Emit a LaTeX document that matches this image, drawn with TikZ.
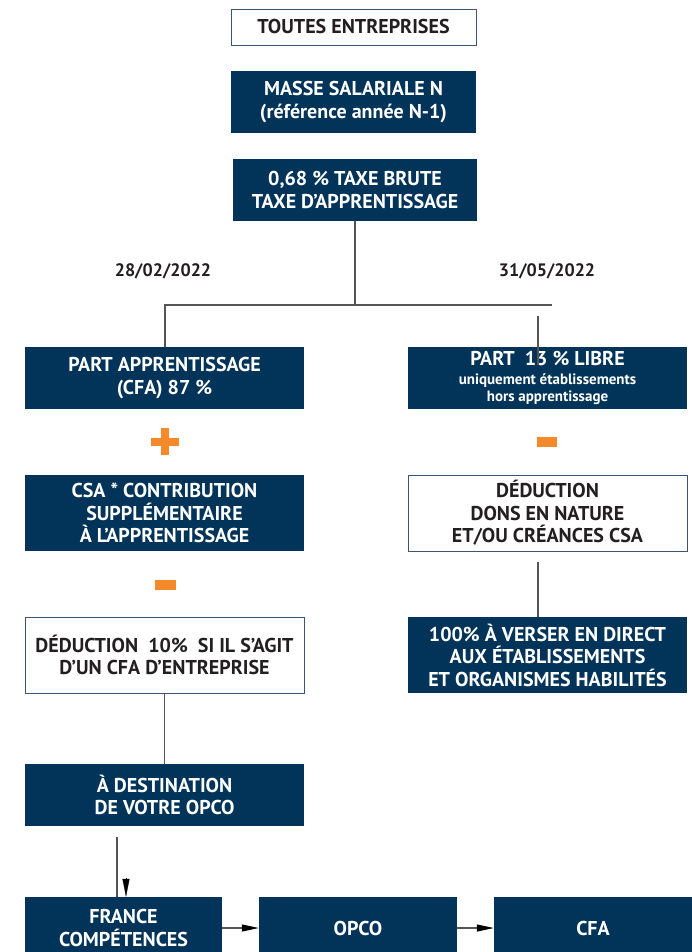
\documentclass[tikz,border=0pt]{standalone}
\usepackage{fontspec}
\setmainfont{PT Sans}
\usepackage{tikz}
\usetikzlibrary{shapes,arrows.meta,positioning,calc}
\usepackage{xcolor}
\definecolor{navy}{RGB}{2,52,89}
\definecolor{frame}{RGB}{60,85,115}
\definecolor{ink}{RGB}{35,31,32}
\definecolor{lien}{RGB}{85,85,85}
\definecolor{signe}{RGB}{245,138,42}

\tikzset{
    darkbox/.style={rectangle, fill=navy, text=white, align=center, inner sep=0pt,
        font=\fontsize{20}{22.5}\selectfont\bfseries},
    lightbox/.style={rectangle, draw=frame, line width=0.8pt, fill=white, text=ink,
        align=center, inner sep=0pt, font=\fontsize{20}{22.5}\selectfont\bfseries},
    datelabel/.style={text=ink, font=\fontsize{18}{20}\selectfont\bfseries},
    link/.style={draw=lien, line width=1.1pt},
    flow/.style={link, -{Triangle[length=17pt,width=7pt,black]}}
}

\begin{document}
\begin{tikzpicture}[x=1pt,y=-1pt]
            \useasboundingbox (0,0) rectangle (692,952);

            % haut
            \node[lightbox, minimum width=245pt, minimum height=36pt] (toutes) at (353.5,27) {TOUTES ENTREPRISES};
            \node[darkbox, minimum width=245pt, minimum height=62pt] (masse) at (353.5,102) {MASSE SALARIALE N\\(référence année N-1)};
            \node[darkbox, minimum width=244pt, minimum height=62pt] (taxe) at (355,190) {0,68 \% TAXE BRUTE\\TAXE D’APPRENTISSAGE};

            % dates
            \node[datelabel] (dateA) at (163,271) {28/02/2022};
            \node[datelabel] (dateB) at (547,271) {31/05/2022};

            % colonne gauche
            \node[darkbox, minimum width=279pt, minimum height=62pt] (partA) at (164.5,378) {PART APPRENTISSAGE\\(CFA) 87 \%};
            \node[darkbox, minimum width=279pt, minimum height=76pt] (csa) at (164.5,513) {CSA * CONTRIBUTION\\SUPPLÉMENTAIRE\\À L’APPRENTISSAGE};
            \node[lightbox, minimum width=279pt, minimum height=76pt] (ded10) at (164.5,655) {DÉDUCTION\ \ 10\%\ \ SI IL S’AGIT\\D’UN CFA D’ENTREPRISE};
            \node[darkbox, minimum width=279pt, minimum height=62pt] (dest) at (164.5,795) {À DESTINATION\\DE VOTRE OPCO};

            % colonne droite
            \node[darkbox, minimum width=279pt, minimum height=62pt] (partL) at (547.5,378)
                {PART\ \ 13 \% LIBRE\\[-4pt]{\fontsize{15}{17}\selectfont uniquement établissements}\\[-5pt]{\fontsize{15}{17}\selectfont hors apprentissage}};
            \node[lightbox, minimum width=279pt, minimum height=76pt] (dons) at (547.5,513) {DÉDUCTION\\DONS EN NATURE\\ET/OU CRÉANCES CSA};
            \node[darkbox, minimum width=279pt, minimum height=76pt] (verser) at (547.5,655) {100\% À VERSER EN DIRECT\\AUX ÉTABLISSEMENTS\\ET ORGANISMES HABILITÉS};

            % bas
            \node[darkbox, minimum width=197pt, minimum height=62pt] (france) at (123.5,928) {FRANCE\\COMPÉTENCES};
            \node[darkbox, minimum width=198pt, minimum height=62pt] (opco) at (358,928) {OPCO};
            \node[darkbox, minimum width=198pt, minimum height=62pt] (cfa) at (593,928) {CFA};

            % signes
            \fill[signe] (151,437.5) rectangle (179,445.5);
            \fill[signe] (161,428) rectangle (169,455);
            \fill[signe] (537,437) rectangle (557,447);
            \fill[signe] (155,580) rectangle (176,590);

            % liaisons
            \coordinate (splitL) at (165,305);
            \coordinate (splitR) at (552,305);
            \coordinate (stubR) at (538,316);
            \coordinate (stubD) at (538,562);
            \coordinate (stubF) at (117,837);
            \draw[link] (taxe.south) -- (taxe.south |- splitL);
            \draw[link] (partA.north -| splitL) -- (splitL) -- (splitR);
            \draw[link] (stubR) -- ++(0,49);
            \draw[link] (stubD) -- (stubD |- verser.north);
            \draw[link] (ded10.south) -- (dest.north);
            \draw[link] (stubF) -- (stubF |- france.north);
            \draw[-{Triangle[length=18pt,width=7pt]}, black] (126,878) -- (france.north -| 126,0);
            \draw[flow] (france.east) -- (opco.west);
            \draw[flow] (opco.east) -- (cfa.west);
        \end{tikzpicture}
\end{document}
